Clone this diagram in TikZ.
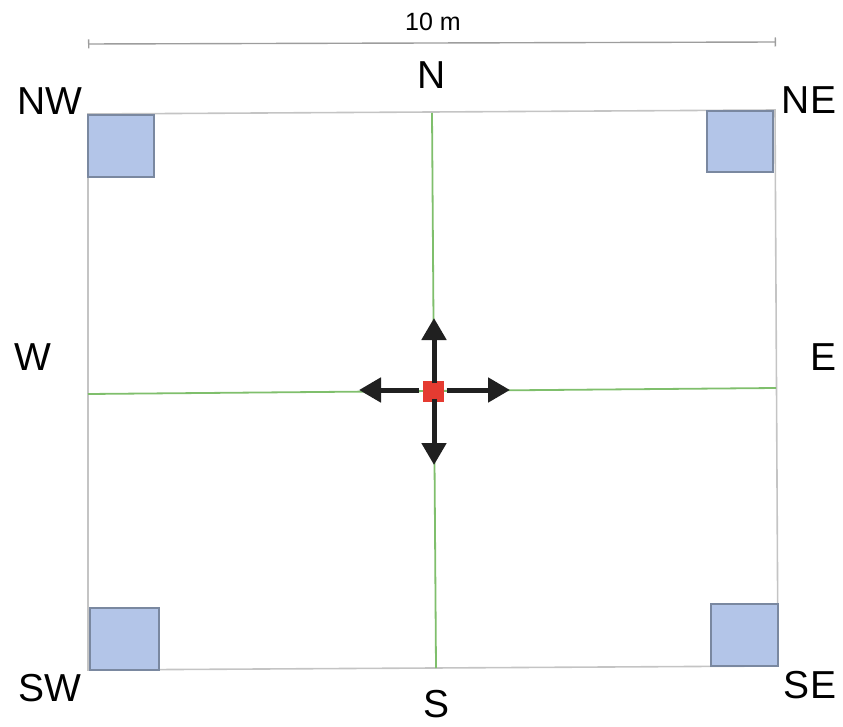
\documentclass[tikz,border=0pt]{standalone}
\usepackage{fontspec}
\setmainfont{Liberation Sans}
\usetikzlibrary{arrows.meta}
\definecolor{plot-grey}{HTML}{C4C4C4}
\definecolor{axis-green}{HTML}{7FBF6C}
\definecolor{trap-blue}{HTML}{B3C5E8}
\definecolor{trap-edge}{HTML}{7A88A0}
\definecolor{source-red}{HTML}{E53B31}
\definecolor{arrow-black}{HTML}{202020}

\begin{document}
\begin{tikzpicture}[x=1pt, y=-1pt,
      every node/.style={font=\fontsize{39}{42}\selectfont, inner sep=0pt},
      trap/.style={draw=trap-edge, fill=trap-blue, line width=1.2pt},
      move/.style={arrow-black, -{Triangle[length=22pt, width=24pt]},
                   line width=5pt}]
    \useasboundingbox (0,0) rectangle (843,727);
    % plot outline
    \coordinate (PNW) at (88,114);
    \coordinate (PNE) at (775,110);
    \coordinate (PSE) at (778,666);
    \coordinate (PSW) at (88,670);
    \draw[plot-grey, line width=1.6pt] (PNW) -- (PNE) -- (PSE) -- (PSW) -- cycle;
    % transects
    \coordinate (TN) at (432,113);
    \coordinate (TS) at (436,668);
    \coordinate (TW) at (88,394);
    \coordinate (TE) at (776,388);
    \draw[axis-green, line width=1.8pt] (TN) -- (TS);
    \draw[axis-green, line width=1.8pt] (TW) -- (TE);
    % corner traps
    \node[trap, minimum width=66, minimum height=62] (TRNW) at (121,146) {};
    \node[trap, minimum width=66, minimum height=61] (TRNE) at (740,141.5) {};
    \node[trap, minimum width=69, minimum height=62] (TRSW) at (124.5,639) {};
    \node[trap, minimum width=67, minimum height=62] (TRSE) at (744.5,635) {};
    % release point
    \node[fill=source-red, minimum size=21] (SRC) at (433,391) {};
    \coordinate (UP) at (434,318);
    \coordinate (DOWN) at (434,465);
    \coordinate (LEFT) at (359,390);
    \coordinate (RIGHT) at (510,390);
    \draw[move] ([yshift=-3]SRC.north -| UP) -- (UP);
    \draw[move] ([yshift=3]SRC.south -| DOWN) -- (DOWN);
    \draw[move] ([xshift=-3]SRC.west |- LEFT) -- (LEFT);
    \draw[move] ([xshift=3]SRC.east |- RIGHT) -- (RIGHT);
    % scale bar
    \coordinate (DL) at (88,44);
    \coordinate (DR) at (776,42);
    \draw[plot-grey!80!black, line width=1.4pt,
          {Bar[width=9pt]}-{Bar[width=9pt]}] (DL) -- (DR);
    \node[font=\fontsize{25}{28}\selectfont] (DIM) at (433,22) {10 m};
    % compass labels
    \node (LNW) at (50,101) {NW};
    \node (LN) at (432,75) {N};
    \node (LNE) at (809,100) {NE};
    \node (LW) at (33,357) {W};
    \node (LE) at (823,357) {E};
    \node (LSW) at (50,688) {SW};
    \node (LS) at (437,704) {S};
    \node (LSE) at (810,685) {SE};
  \end{tikzpicture}
\end{document}
